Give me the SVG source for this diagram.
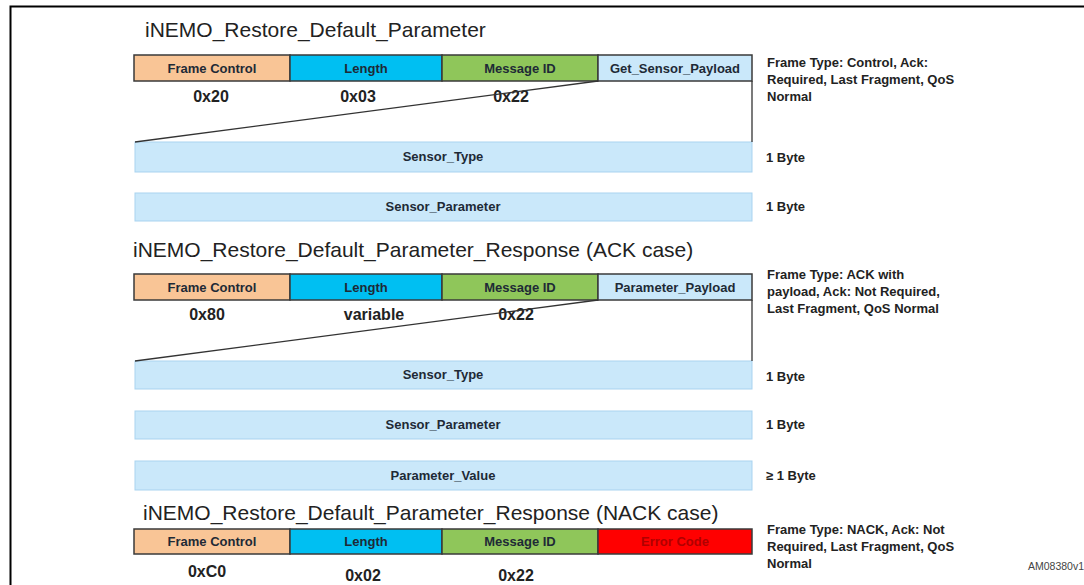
<svg xmlns="http://www.w3.org/2000/svg" width="1084" height="585" viewBox="0 0 1084 585">
<style>
.frame{fill:none;stroke:#000;stroke-width:2}
.title{font-family:"Liberation Sans",Arial,sans-serif;font-size:21px;fill:#222}
.hdr{stroke:#3a3a3a;stroke-width:1.5}
.fc{fill:#F9C596}
.len{fill:#00BFF2}
.mid{fill:#8FC65A}
.pay{fill:#CAE8FA}
.err{fill:#FF0000}
.lbl{font-family:"Liberation Sans",Arial,sans-serif;font-size:13px;font-weight:bold;fill:#1e2a36;text-anchor:middle}
.errl{fill:#B00000}
.val{font-family:"Liberation Sans",Arial,sans-serif;font-size:16px;font-weight:bold;fill:#222;text-anchor:middle}
.box{fill:#CAE8FA;stroke:#A9D3F0;stroke-width:1}
.desc{font-family:"Liberation Sans",Arial,sans-serif;font-size:13px;font-weight:bold;fill:#222}
.conn{fill:none;stroke:#333;stroke-width:1.3}
.ref{font-family:"Liberation Sans",Arial,sans-serif;font-size:10.5px;fill:#444}
</style>
<path class="frame" d="M10.5,585 V6.5 H1084"/>

<!-- Section 1 -->
<text class="title" x="145" y="37">iNEMO_Restore_Default_Parameter</text>
<g id="s1-frame-control"><rect class="hdr fc" x="134" y="55" width="156" height="26"/><text class="lbl" x="212" y="73">Frame Control</text><text class="val" x="211" y="102">0x20</text></g>
<g id="s1-length"><rect class="hdr len" x="290" y="55" width="152" height="26"/><text class="lbl" x="366" y="73">Length</text><text class="val" x="358" y="102">0x03</text></g>
<g id="s1-message-id"><rect class="hdr mid" x="442" y="55" width="156" height="26"/><text class="lbl" x="520" y="73">Message ID</text><text class="val" x="511" y="102">0x22</text></g>
<g id="s1-payload"><rect class="hdr pay" x="598" y="55" width="154" height="26"/><text class="lbl" x="675" y="73">Get_Sensor_Payload</text></g>
<g id="s1-desc"><text class="desc" x="767" y="67">Frame Type: Control, Ack:</text><text class="desc" x="767" y="84">Required, Last Fragment, QoS</text><text class="desc" x="767" y="101">Normal</text></g>
<g id="s1-sensor-type"><rect class="box" x="135" y="142" width="617" height="30"/><text class="lbl" x="443" y="161">Sensor_Type</text><text class="desc" x="766" y="162">1 Byte</text></g>
<g id="s1-sensor-parameter"><rect class="box" x="135" y="193" width="617" height="28"/><text class="lbl" x="443" y="211">Sensor_Parameter</text><text class="desc" x="766" y="211">1 Byte</text></g>

<!-- Section 2 -->
<text class="title" x="133" y="257">iNEMO_Restore_Default_Parameter_Response (ACK case)</text>
<g id="s2-frame-control"><rect class="hdr fc" x="134" y="274" width="156" height="26"/><text class="lbl" x="212" y="292">Frame Control</text><text class="val" x="207" y="320">0x80</text></g>
<g id="s2-length"><rect class="hdr len" x="290" y="274" width="152" height="26"/><text class="lbl" x="366" y="292">Length</text><text class="val" x="374" y="320">variable</text></g>
<g id="s2-message-id"><rect class="hdr mid" x="442" y="274" width="156" height="26"/><text class="lbl" x="520" y="292">Message ID</text><text class="val" x="516" y="320">0x22</text></g>
<g id="s2-payload"><rect class="hdr pay" x="598" y="274" width="154" height="26"/><text class="lbl" x="675" y="292">Parameter_Payload</text></g>
<g id="s2-desc"><text class="desc" x="767" y="279">Frame Type: ACK  with</text><text class="desc" x="767" y="296">payload, Ack: Not Required,</text><text class="desc" x="767" y="313">Last Fragment, QoS Normal</text></g>
<g id="s2-sensor-type"><rect class="box" x="135" y="361" width="617" height="28"/><text class="lbl" x="443" y="379">Sensor_Type</text><text class="desc" x="766" y="381">1 Byte</text></g>
<g id="s2-sensor-parameter"><rect class="box" x="135" y="411" width="617" height="28"/><text class="lbl" x="443" y="429">Sensor_Parameter</text><text class="desc" x="766" y="429">1 Byte</text></g>
<g id="s2-parameter-value"><rect class="box" x="135" y="461" width="617" height="29"/><text class="lbl" x="443" y="480">Parameter_Value</text><text class="desc" x="766" y="480">≥ 1 Byte</text></g>

<!-- Section 3 -->
<text class="title" x="143" y="520">iNEMO_Restore_Default_Parameter_Response (NACK case)</text>
<g id="s3-frame-control"><rect class="hdr fc" x="134" y="529" width="156" height="25"/><text class="lbl" x="212" y="546">Frame Control</text><text class="val" x="207" y="577">0xC0</text></g>
<g id="s3-length"><rect class="hdr len" x="290" y="529" width="152" height="25"/><text class="lbl" x="366" y="546">Length</text><text class="val" x="363" y="581">0x02</text></g>
<g id="s3-message-id"><rect class="hdr mid" x="442" y="529" width="156" height="25"/><text class="lbl" x="520" y="546">Message ID</text><text class="val" x="516" y="581">0x22</text></g>
<g id="s3-error-code"><rect class="hdr err" x="598" y="529" width="154" height="25"/><text class="lbl errl" x="675" y="546">Error Code</text></g>
<g id="s3-desc"><text class="desc" x="767" y="534">Frame Type: NACK, Ack: Not</text><text class="desc" x="767" y="551">Required, Last Fragment, QoS</text><text class="desc" x="767" y="568">Normal</text></g>
<text class="ref" x="1028" y="570">AM08380v1</text>

<g id="connectors">
<line class="conn" x1="598" y1="81" x2="135" y2="142"/>
<line class="conn" x1="752" y1="81" x2="752" y2="142"/>
<line class="conn" x1="598" y1="300" x2="135" y2="361"/>
<line class="conn" x1="752" y1="300" x2="752" y2="361"/>
</g>
</svg>
